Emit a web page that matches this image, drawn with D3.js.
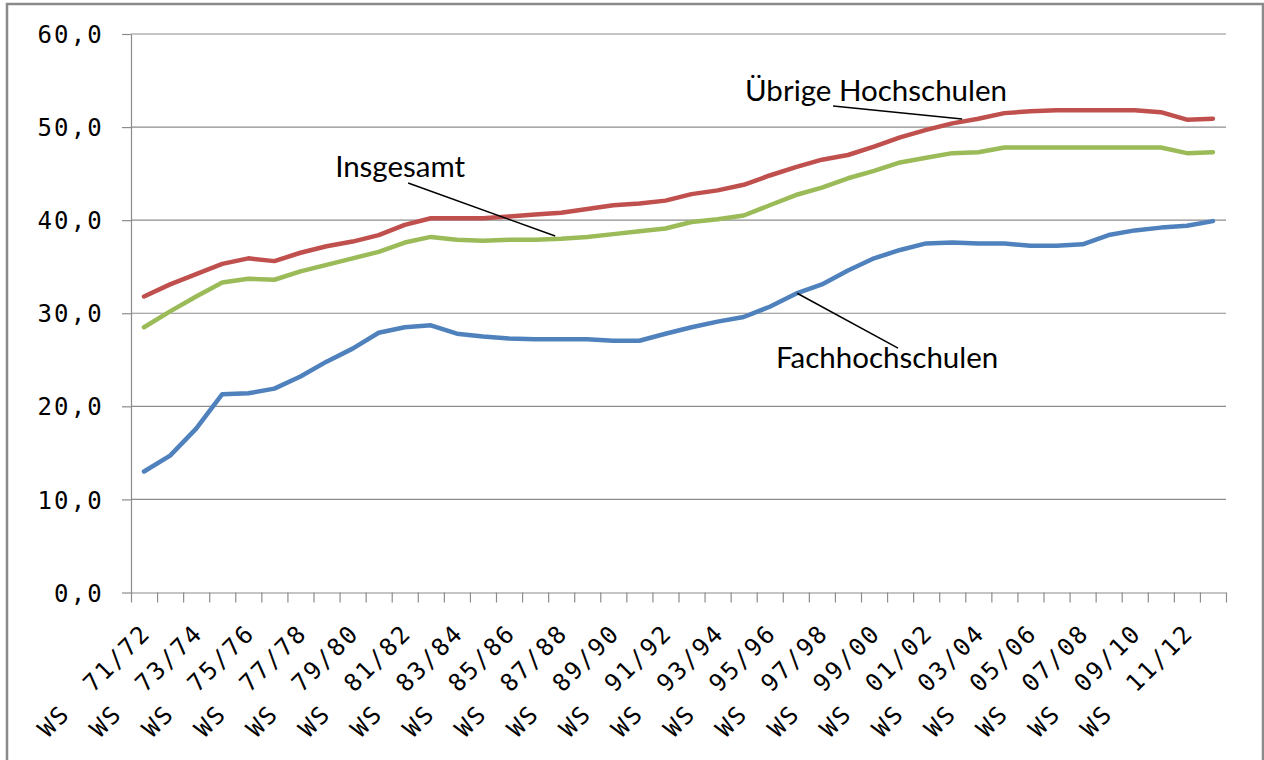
<!DOCTYPE html>
<html lang="de">

<head>
    <meta charset="utf-8">
    <title>Studienanfänger</title>
    <style type="text/css">
        body {
            margin: 0;
            background: #fff;
        }

        .digits text {
            font-family: 'DejaVu Sans Mono', monospace;
            font-size: 24px;
            letter-spacing: 2.2px;
            fill: #000;
        }

        .anno {
            font-family: 'Lato', 'Open Sans', sans-serif;
            font-size: 29.5px;
            fill: #000;
        }
    </style>
    <script type="text/javascript" src="https://cdnjs.cloudflare.com/ajax/libs/d3/7.8.5/d3.min.js"></script>
</head>

<body>
    <script type="text/javascript">
        /* DATA */

        var categories = ["WS 71/72", "WS 72/73", "WS 73/74", "WS 74/75", "WS 75/76", "WS 76/77",
            "WS 77/78", "WS 78/79", "WS 79/80", "WS 80/81", "WS 81/82", "WS 82/83", "WS 83/84",
            "WS 84/85", "WS 85/86", "WS 86/87", "WS 87/88", "WS 88/89", "WS 89/90", "WS 90/91",
            "WS 91/92", "WS 92/93", "WS 93/94", "WS 94/95", "WS 95/96", "WS 96/97", "WS 97/98",
            "WS 98/99", "WS 99/00", "WS 00/01", "WS 01/02", "WS 02/03", "WS 03/04", "WS 04/05",
            "WS 05/06", "WS 06/07", "WS 07/08", "WS 08/09", "WS 09/10", "WS 10/11", "WS 11/12",
            "WS 12/13"];

        var uebrige = [31.8, 33.1, 34.2, 35.3, 35.9, 35.6, 36.5, 37.2, 37.7, 38.4, 39.5, 40.2,
            40.2, 40.2, 40.4, 40.6, 40.8, 41.2, 41.6, 41.8, 42.1, 42.8, 43.2, 43.8, 44.8, 45.7,
            46.5, 47.0, 47.9, 48.9, 49.7, 50.4, 50.9, 51.5, 51.7, 51.8, 51.8, 51.8, 51.8, 51.6,
            50.8, 50.9];

        var insgesamt = [28.5, 30.2, 31.8, 33.3, 33.7, 33.6, 34.5, 35.2, 35.9, 36.6, 37.6, 38.2,
            37.9, 37.8, 37.9, 37.9, 38.0, 38.2, 38.5, 38.8, 39.1, 39.8, 40.1, 40.5, 41.6, 42.7,
            43.5, 44.5, 45.3, 46.2, 46.7, 47.2, 47.3, 47.8, 47.8, 47.8, 47.8, 47.8, 47.8, 47.8,
            47.2, 47.3];

        var fachhochschulen = [13.0, 14.7, 17.6, 21.3, 21.4, 21.9, 23.2, 24.8, 26.2, 27.9, 28.5,
            28.7, 27.8, 27.5, 27.3, 27.2, 27.2, 27.2, 27.05, 27.05, 27.8, 28.5, 29.1, 29.6, 30.7,
            32.1, 33.1, 34.6, 35.9, 36.8, 37.5, 37.6, 37.5, 37.5, 37.25, 37.25, 37.4, 38.4, 38.9,
            39.2, 39.4, 39.9];

        var yTicks = [0, 10, 20, 30, 40, 50, 60];

        // annotation: text anchor and leader line, in category index / value units
        var annoNames = ["Insgesamt", "Übrige Hochschulen", "Fachhochschulen"];
        var annoText = [[7.33, 44.66], [23.05, 52.8], [24.24, 24.1]];
        var annoFrom = [[10.13, 44.0], [26.43, 52.26], [25.05, 32.15]];
        var annoTo = [[15.77, 38.3], [31.38, 50.86], [28.92, 26.26]];

        /* SETUP */

        var svgW = 1264;
        var svgH = 760;
        var plotL = 131, plotR = 1226, plotT = 34, plotB = 592.5;

        var svg = d3.select("body").append("svg")
            .attr("width", svgW)
            .attr("height", svgH);

        svg.append("rect")
            .attr("x", 7)
            .attr("y", 4)
            .attr("width", 1256)
            .attr("height", 800)
            .attr("fill", "#fff")
            .attr("stroke", "#8a8a8a")
            .attr("stroke-width", 2.5);

        var x = d3.scalePoint()
            .domain(categories)
            .range([plotL, plotR])
            .padding(0.5);

        // continuous version of the category axis, used for ticks and annotations
        var xi = d3.scaleLinear()
            .domain([-0.5, categories.length - 0.5])
            .range([plotL, plotR]);

        var y = d3.scaleLinear()
            .domain([0, 60])
            .range([plotB, plotT]);

        var de = d3.formatLocale({ decimal: ",", thousands: ".", grouping: [3], currency: ["", " €"] });
        var fmt = de.format(".1f");

        /* GRID */

        svg.append("g")
            .selectAll("line")
            .data(yTicks.slice(1))
            .join("line")
            .attr("x1", plotL)
            .attr("x2", plotR)
            .attr("y1", d => y(d))
            .attr("y2", d => y(d))
            .attr("stroke", "#8c8c8c")
            .attr("stroke-width", 1.2);

        /* AXES */

        var yAxis = svg.append("g")
            .attr("class", "digits")
            .attr("transform", "translate(" + plotL + ",0)")
            .call(d3.axisLeft(y).tickValues(yTicks).tickFormat(fmt).tickSize(9).tickSizeOuter(0).tickPadding(18));
        yAxis.selectAll("line, path").attr("stroke", "#8c8c8c").attr("stroke-width", 1.2);
        yAxis.selectAll("text").attr("dy", "0.36em");

        var xAxis = svg.append("g")
            .attr("transform", "translate(0," + plotB + ")")
            .call(d3.axisBottom(xi).tickValues(d3.range(-0.5, categories.length, 1)).tickFormat("").tickSize(10).tickSizeOuter(0));
        xAxis.selectAll("line, path").attr("stroke", "#8c8c8c").attr("stroke-width", 1.2);

        svg.append("g")
            .attr("class", "digits")
            .selectAll("text")
            .data(categories.filter((d, i) => i % 2 === 0))
            .join("text")
            .attr("text-anchor", "end")
            .attr("word-spacing", "14px")
            .attr("transform", d => "translate(" + (x(d) + 8) + "," + (plotB + 42) + ") rotate(-45)")
            .text(d => d);

        /* LINES */

        var series = [
            { name: "Übrige Hochschulen", values: uebrige, color: "#C0504D" },
            { name: "Insgesamt", values: insgesamt, color: "#9BBB59" },
            { name: "Fachhochschulen", values: fachhochschulen, color: "#4F81BD" }
        ];

        var line = d3.line()
            .x((d, i) => x(categories[i]))
            .y(d => y(d));

        svg.append("g")
            .selectAll("path")
            .data(series)
            .join("path")
            .attr("d", d => line(d.values))
            .attr("fill", "none")
            .attr("stroke", d => d.color)
            .attr("stroke-width", 4.5)
            .attr("stroke-linejoin", "round")
            .attr("stroke-linecap", "round");

        /* ANNOTATIONS */

        for (var i = 0; i < annoNames.length; i++) {
            svg.append("line")
                .attr("x1", xi(annoFrom[i][0]))
                .attr("y1", y(annoFrom[i][1]))
                .attr("x2", xi(annoTo[i][0]))
                .attr("y2", y(annoTo[i][1]))
                .attr("stroke", "#000")
                .attr("stroke-width", 1.5);

            svg.append("text")
                .attr("class", "anno")
                .attr("x", xi(annoText[i][0]))
                .attr("y", y(annoText[i][1]))
                .text(annoNames[i]);
        }
    </script>
</body>

</html>
